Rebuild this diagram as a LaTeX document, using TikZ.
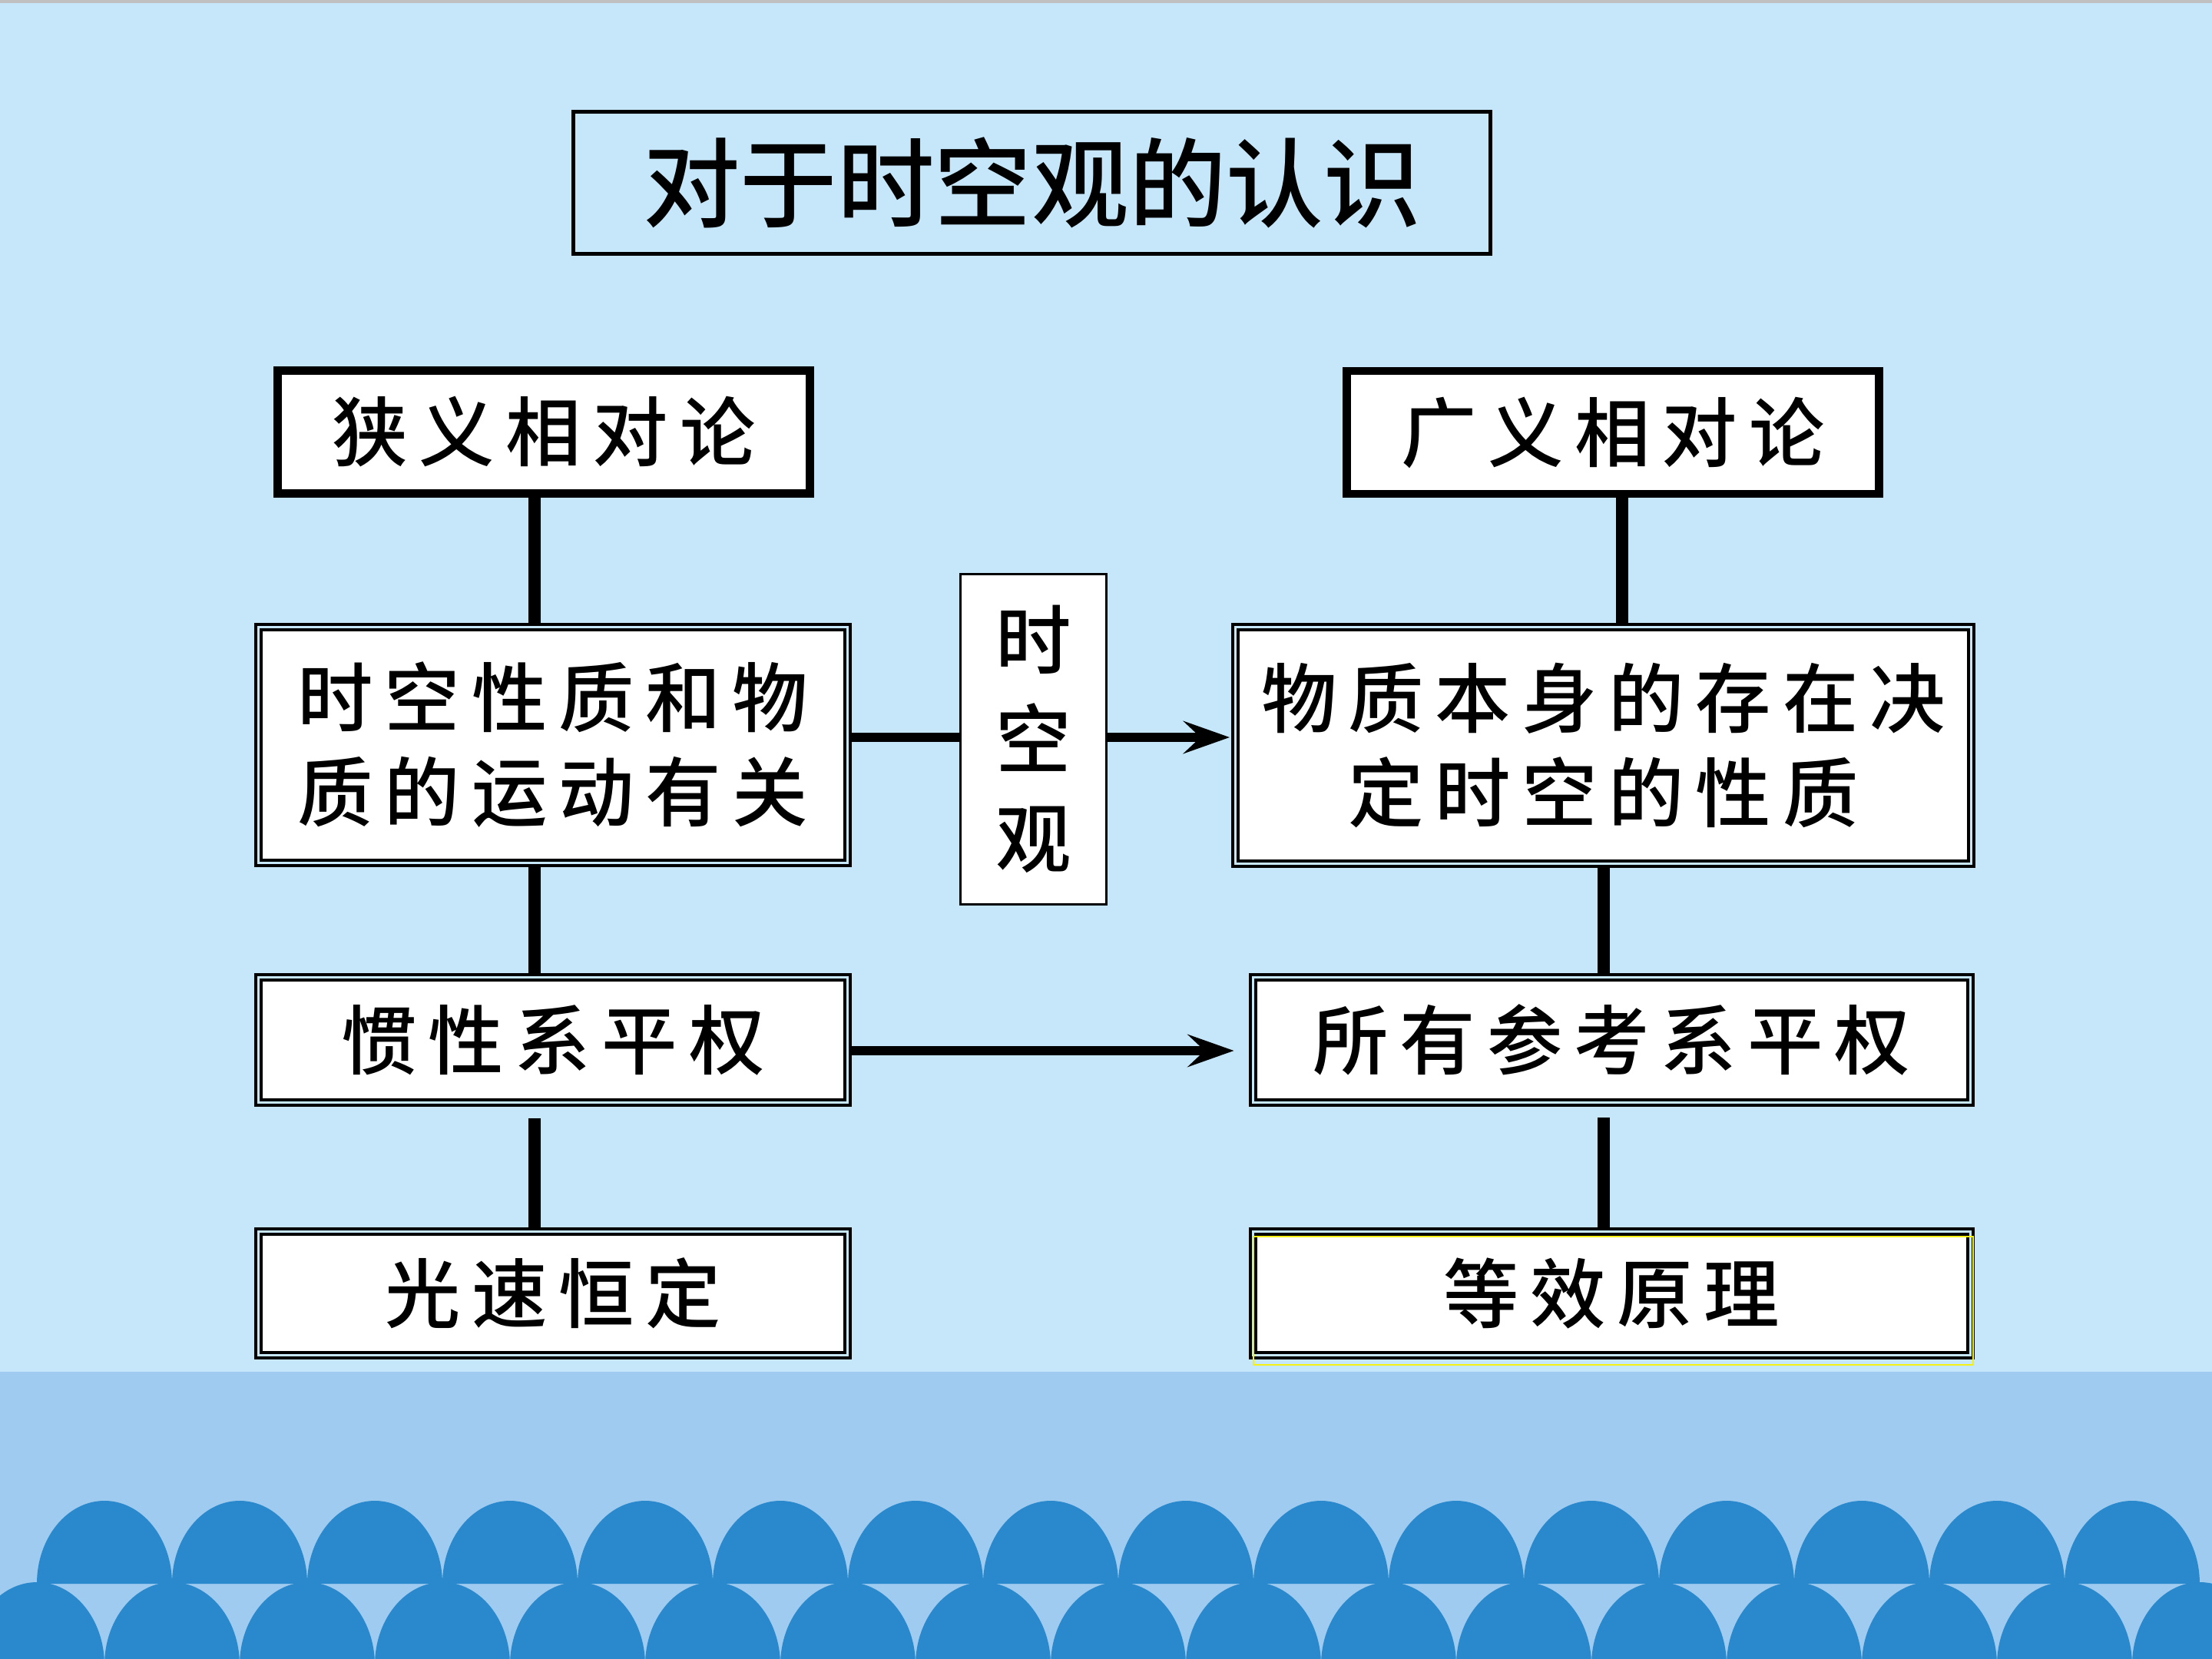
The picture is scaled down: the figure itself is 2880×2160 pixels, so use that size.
\documentclass[tikz,border=0pt]{standalone}
\usepackage{fontspec}
\usetikzlibrary{arrows.meta}
\newfontfamily\cjk[LetterSpace=15]{Noto Sans CJK SC Medium}
\newfontfamily\cjktitle{Noto Sans CJK SC Medium}
\newcommand\boxfont{\cjk\fontsize{28}{35}\selectfont}
\definecolor{SkyPale}{RGB}{197,231,249}
\definecolor{SkyMid}{RGB}{158,203,239}
\definecolor{WaveBlue}{RGB}{42,136,204}
\definecolor{FrameGray}{RGB}{192,192,192}
\definecolor{MarkYellow}{RGB}{245,240,20}
\tikzset{
  titlebox/.style={draw=black, line width=1.4pt, align=center, inner sep=0pt,
    minimum width=119.4mm, minimum height=18.5mm,
    font=\cjktitle\fontsize{36}{40}\selectfont},
  theorybox/.style={draw=black, line width=3.1pt, fill=white, align=center, inner sep=0pt,
    minimum width=69.3mm, minimum height=16mm, font=\boxfont},
  dblbox/.style={draw=black, line width=1.1pt, double=SkyPale, double distance=1pt,
    fill=white, align=center, inner sep=0pt, minimum width=#1, font=\boxfont},
  dblbox/.default=76.7mm,
  tallbox/.style={draw=black, line width=0.8pt, fill=white, align=center, inner sep=0pt,
    minimum width=19mm, minimum height=43mm,
    font=\cjk\fontsize{28}{36.7}\selectfont},
  vline/.style={line width=4.55pt, black},
  hline/.style={line width=3.5pt, black},
  harrow/.style={hline, -{Stealth[length=6mm, width=4.2mm, inset=2.2mm]}},
}
\begin{document}
\begin{tikzpicture}[x=0.1mm, y=-0.1mm]
  \useasboundingbox (0,0) rectangle (2880,2160);
  % fondo y olas
  \fill[SkyPale] (0,0) rectangle (2880,2160);
  \fill[FrameGray] (0,0) rectangle (2880,4);
  \fill[SkyMid] (0,1786) rectangle (2880,2160);
  \begin{scope}
    \clip (0,1786) rectangle (2880,2160);
    \foreach \k in {0,...,16}
      \fill[WaveBlue] (48+176*\k-88,2168) arc[start angle=180, end angle=0, x radius=8.8mm, y radius=10.8mm];
    \foreach \k in {0,...,15}
      \fill[WaveBlue] (136+176*\k-88,2062) arc[start angle=180, end angle=0, x radius=8.8mm, y radius=10.8mm];
  \end{scope}

  % cajas
  \node[titlebox] (title) at (1343.5,238) {对于时空观的认识};
  \node[theorybox] (special) at (708,562.5) {狭义相对论};
  \node[theorybox] (general) at (2100,563) {广义相对论};
  \node[dblbox, minimum height=30.7mm] (motion) at (720,970) {时空性质和物\\质的运动有关};
  \node[dblbox=95.8mm, minimum height=30.8mm] (matter) at (2087.5,970.5) {物质本身的存在决\\定时空的性质};
  \node[tallbox] (view) at (1345.5,962.5) {时\\空\\观};
  \node[dblbox, minimum height=16.3mm] (inertial) at (720,1354) {惯性系平权};
  \node[dblbox=93.4mm, minimum height=16.3mm] (allframes) at (2098.5,1354) {所有参考系平权};
  \node[dblbox, minimum height=16.1mm] (lightspeed) at (720,1684) {光速恒定};
  \node[dblbox=93.4mm, minimum height=16.1mm] (equiv) at (2098.5,1684) {等效原理};
  \draw[MarkYellow, line width=0.6pt] (1632,1610) rectangle (2569,1777);

  % ejes de conectores
  \coordinate (axisL) at (696,0);
  \coordinate (axisR) at (2112,0);
  \coordinate (axisRR) at (2088,0);
  \coordinate (rowA) at (0,960);
  \coordinate (rowB) at (0,1368);

  \draw[vline] (special.south -| axisL) -- (motion.north -| axisL);
  \draw[vline] (motion.south -| axisL) -- (inertial.north -| axisL);
  \draw[vline, shorten <=1.9mm] (inertial.south -| axisL) -- (lightspeed.north -| axisL);
  \draw[vline] (general.south -| axisR) -- (matter.north -| axisR);
  \draw[vline] (matter.south -| axisRR) -- (allframes.north -| axisRR);
  \draw[vline, shorten <=1.8mm] (allframes.south -| axisRR) -- (equiv.north -| axisRR);

  \draw[hline] (motion.east |- rowA) -- (view.west |- rowA);
  \draw[harrow, shorten >=0.55mm] (view.east |- rowA) -- (matter.west |- rowA);
  \draw[harrow, shorten >=2.3mm] (inertial.east |- rowB) -- (allframes.west |- rowB);
\end{tikzpicture}
\end{document}
